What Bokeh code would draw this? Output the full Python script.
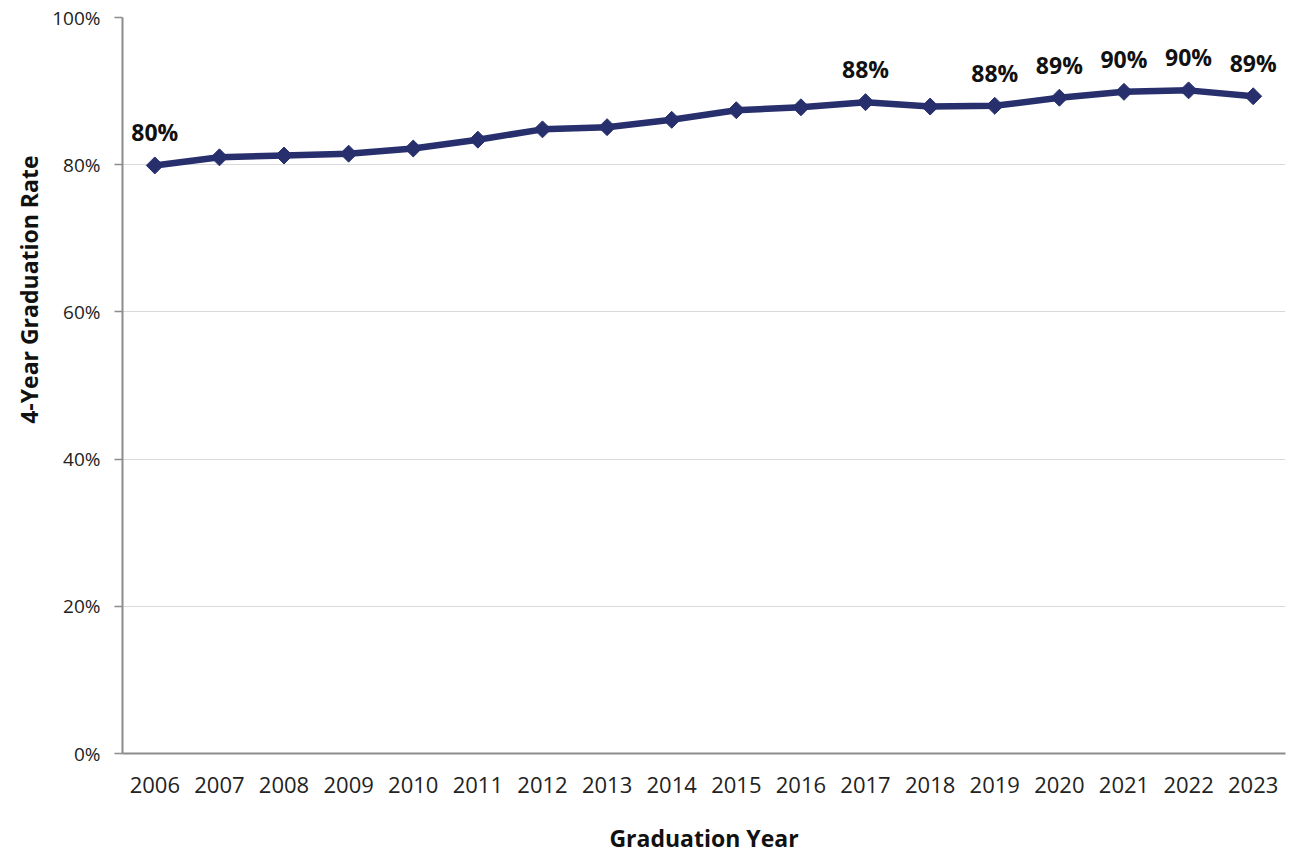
import math
from bokeh.plotting import figure
from bokeh.models import ColumnDataSource, FactorRange, Range1d, NumeralTickFormatter, FixedTicker, Title
from bokeh.core.properties import value
from bokeh.embed import file_html
from bokeh.resources import INLINE

years = [str(y) for y in range(2006, 2024)]
rates = [0.799, 0.810, 0.8125, 0.815, 0.822, 0.834, 0.848, 0.851, 0.861,
         0.874, 0.878, 0.885, 0.879, 0.880, 0.891, 0.899, 0.901, 0.893]
label_years = ["2006", "2017", "2019", "2020", "2021", "2022", "2023"]
label_texts = ["80%", "88%", "88%", "89%", "90%", "90%", "89%"]
y_ticks = [0, 0.2, 0.4, 0.6, 0.8, 1.0]

NAVY = "#272f6d"
FONT = "Open Sans"

src = ColumnDataSource(dict(x=years, y=rates))
lab_y = [rates[years.index(y)] for y in label_years]
lab_src = ColumnDataSource(dict(x=label_years, y=lab_y, t=label_texts))

p = figure(x_range=FactorRange(*years), y_range=Range1d(0, 1.0),
           frame_width=1163, frame_height=736,
           min_border_left=122, min_border_top=17, min_border_right=3, min_border_bottom=94,
           output_backend="svg", toolbar_location=None)
p.outline_line_color = None
p.background_fill_color = "white"

p.line("x", "y", source=src, line_color=NAVY, line_width=6.5)
p.scatter("x", "y", source=src, marker="square", angle=math.pi / 4, size=12,
          fill_color=NAVY, line_color=NAVY)
p.text("x", "y", text="t", source=lab_src, y_offset=-33,
       text_font=value(FONT), text_font_style="bold", text_font_size="23px",
       text_align="center", text_baseline="middle", text_color="#111111")

p.yaxis.ticker = FixedTicker(ticks=y_ticks)
p.yaxis.formatter = NumeralTickFormatter(format="0%")
p.yaxis.major_label_text_font = FONT
p.yaxis.major_label_text_font_size = "19px"
p.yaxis.major_label_text_color = "#222222"
p.yaxis.major_tick_out = 8
p.yaxis.major_tick_in = 0
p.yaxis.minor_tick_out = 0
p.yaxis.minor_tick_in = 0
p.yaxis.major_label_standoff = 14
p.yaxis.axis_line_color = "#8c8c8c"
p.yaxis.axis_line_width = 2
p.yaxis.major_tick_line_color = "#8c8c8c"
p.yaxis.major_tick_line_width = 1.5

ytitle = Title(text="4-Year Graduation Rate", align="right", offset=138,
               text_font=FONT, text_font_style="bold", text_font_size="23px",
               text_color="#111111")
p.add_layout(ytitle, "left")

p.xaxis.major_tick_out = 0
p.xaxis.major_tick_in = 0
p.xaxis.major_label_text_font = FONT
p.xaxis.major_label_text_font_size = "22px"
p.xaxis.major_label_text_color = "#222222"
p.xaxis.major_label_standoff = 23
p.xaxis.axis_line_color = "#8c8c8c"
p.xaxis.axis_line_width = 2
p.xaxis.axis_label = "Graduation Year"
p.xaxis.axis_label_text_font = FONT
p.xaxis.axis_label_text_font_style = "bold"
p.xaxis.axis_label_text_font_size = "23px"
p.xaxis.axis_label_text_color = "#111111"
p.xaxis.axis_label_standoff = 26

p.xgrid.grid_line_color = None
p.ygrid.grid_line_color = "#d9d9d9"
p.ygrid.grid_line_width = 1

open("out.html", "w").write(file_html(p, INLINE))
